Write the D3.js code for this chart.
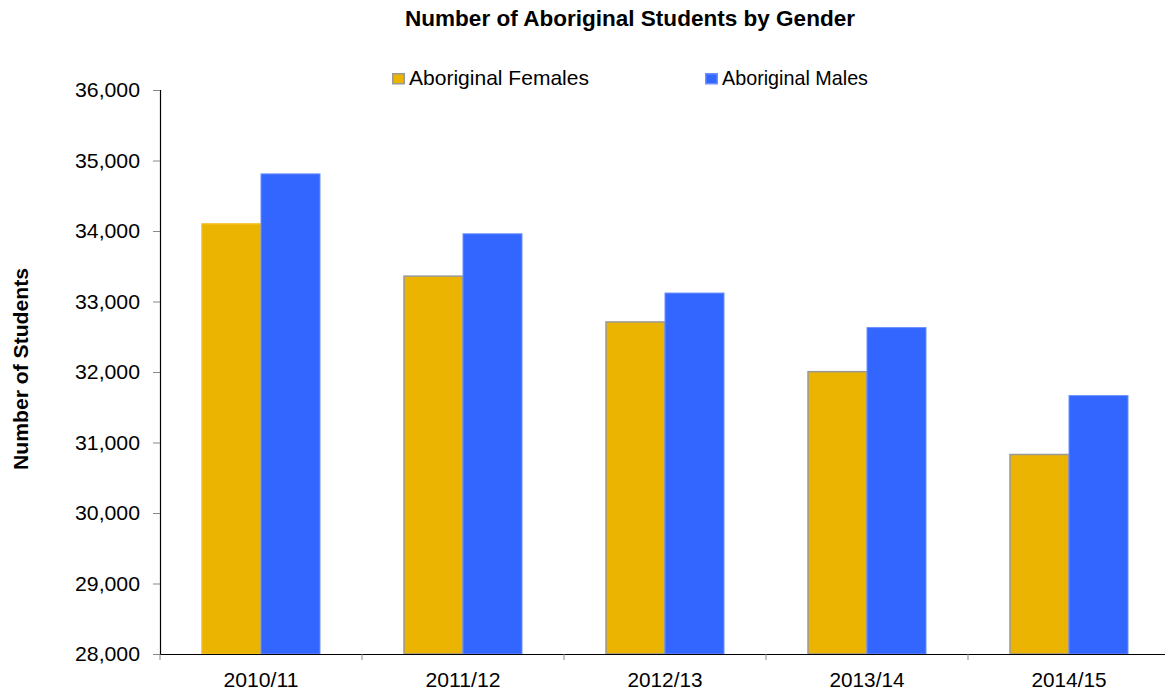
<!DOCTYPE html>
<html>
<head>
<meta charset="utf-8">
<script src="https://cdn.jsdelivr.net/npm/d3@7"></script>
<style>
  body { margin: 0; background: #fff; }
  text { font-family: "Liberation Sans", Arial, sans-serif; fill: #000; }
</style>
</head>
<body>
<script>
const years = ["2010/11", "2011/12", "2012/13", "2013/14", "2014/15"];
const females = [34100, 33360, 32710, 32005, 30830];
const males = [34810, 33960, 33120, 32630, 31665];
const yTicks = [28000, 29000, 30000, 31000, 32000, 33000, 34000, 35000, 36000];
const seriesNames = ["Aboriginal Females", "Aboriginal Males"];
const colors = ["#ebb400", "#3366ff"];

const width = 1165, height = 694;
const margin = {top: 90, right: -5, bottom: 40, left: 160};

const svg = d3.select("body").append("svg")
    .attr("width", width)
    .attr("height", height);

const x = d3.scaleBand()
    .domain(years)
    .range([margin.left, width - margin.right]);

const y = d3.scaleLinear()
    .domain([28000, 36000])
    .range([height - margin.bottom, margin.top]);

const barW = 59;

// pin text widths to what the reference shows
function fit(sel, len) {
  sel.attr("textLength", len).attr("lengthAdjust", "spacingAndGlyphs");
}

// bars
const rows = years.map((yr, i) => ({year: yr, f: females[i], m: males[i]}));

svg.append("g").selectAll("rect")
  .data(rows)
  .enter().append("rect")
    .attr("x", d => x(d.year) + x.bandwidth() / 2 - barW)
    .attr("y", d => y(d.f))
    .attr("width", barW)
    .attr("height", d => y(28000) - y(d.f))
    .attr("fill", colors[0])
    .attr("stroke", (d, i) => i === 0 ? "#f2be1a" : "#999")
    .attr("stroke-width", 1.5);

svg.append("g").selectAll("rect")
  .data(rows)
  .enter().append("rect")
    .attr("x", d => x(d.year) + x.bandwidth() / 2)
    .attr("y", d => y(d.m))
    .attr("width", barW)
    .attr("height", d => y(28000) - y(d.m))
    .attr("fill", colors[1])
    .attr("stroke", "#6b8fff")
    .attr("stroke-width", 1);

// y axis
const yAxis = svg.append("g")
    .attr("transform", `translate(${margin.left},0)`)
    .call(d3.axisLeft(y).tickValues(yTicks).tickSize(7).tickPadding(13)
      .tickFormat(d3.format(",")));
yAxis.select(".domain").attr("stroke", "#000").attr("stroke-width", 1.2);
yAxis.selectAll(".tick line").attr("stroke", "#888");
yAxis.selectAll(".tick text").style("font-size", "21px").call(fit, 65);

// x axis
const xAxis = svg.append("g")
    .attr("transform", `translate(0,${y(28000)})`)
    .call(d3.axisBottom(x).tickSize(0).tickPadding(18));
xAxis.select(".domain").attr("stroke", "#000").attr("stroke-width", 1.2);
xAxis.selectAll(".tick text").style("font-size", "21px").call(fit, 75);

// category separator ticks
svg.append("g").selectAll("line")
  .data(years)
  .enter().append("line")
    .attr("x1", d => x(d))
    .attr("x2", d => x(d))
    .attr("y1", y(28000))
    .attr("y2", y(28000) + 6)
    .attr("stroke", "#888");

// title
svg.append("text")
    .attr("x", 630)
    .attr("y", 26)
    .attr("text-anchor", "middle")
    .style("font-size", "22px")
    .style("font-weight", "bold")
    .call(fit, 450)
    .text("Number of Aboriginal Students by Gender");

// y axis title
svg.append("text")
    .attr("transform", "translate(28,369) rotate(-90)")
    .attr("text-anchor", "middle")
    .style("font-size", "20px")
    .style("font-weight", "bold")
    .call(fit, 202)
    .text("Number of Students");

// legend
const legendX = [392, 705];
const legendLen = [180, 146];
const legend = svg.append("g").selectAll("g")
  .data(seriesNames)
  .enter().append("g")
    .attr("transform", (d, i) => `translate(${legendX[i]},73)`);
legend.append("rect")
    .attr("x", 0.75)
    .attr("y", 0.75)
    .attr("width", 11.5)
    .attr("height", 10)
    .attr("fill", (d, i) => colors[i])
    .attr("stroke", (d, i) => i === 0 ? "#999" : "#6b8fff")
    .attr("stroke-width", 1.5);
legend.append("text")
    .attr("x", 17)
    .attr("y", 12)
    .style("font-size", "21px")
    .each(function(d, i) { d3.select(this).call(fit, legendLen[i]); })
    .text(d => d);
</script>
</body>
</html>
